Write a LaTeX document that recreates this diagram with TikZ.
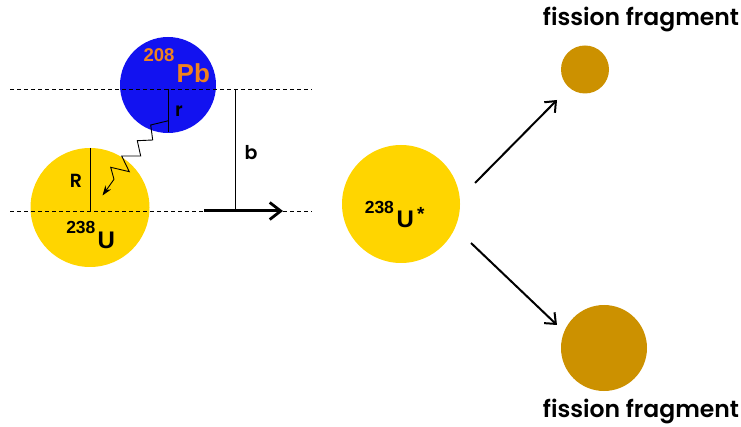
\documentclass[tikz,border=0pt]{standalone}
\usepackage{fontspec}
\setmainfont{Liberation Sans}
\newfontfamily\geosemi{Poppins SemiBold}
\usetikzlibrary{arrows.meta}
\definecolor{pbblue}{RGB}{18,18,240}
\definecolor{pborange}{RGB}{240,130,30}
\definecolor{ugold}{RGB}{255,213,0}
\definecolor{fraggold}{RGB}{204,145,0}
\tikzset{
  nucleus/.style={circle, inner sep=0pt, draw=none},
  guide/.style={dashed, line width=0.8pt, dash pattern=on 4pt off 3pt},
  thin line/.style={line width=0.9pt},
  motion/.style={line width=3pt, -{Straight Barb[length=11pt, width=17pt, line width=2.8pt]}},
  decay/.style={line width=2pt, -{Straight Barb[length=9pt, width=15pt, line width=2pt]}},
  lbl/.style={font=\geosemi\fontsize{19}{19}\selectfont},
  fraglbl/.style={font=\geosemi\fontsize{23.5}{23.5}\selectfont}
}
\begin{document}
\begin{tikzpicture}[x=1pt, y=-1pt]
\useasboundingbox (0,0) rectangle (741,427);

% target and projectile nuclei
\node[nucleus, fill=pbblue, minimum size=96pt] (pb) at (168,85) {};
\node[nucleus, fill=ugold, minimum size=119pt] (u) at (90,207.5) {};

% trajectory guides
\coordinate (tl) at (10,89);
\coordinate (tr) at (312,89);
\coordinate (bl) at (10,211);
\coordinate (br) at (312,211);
\draw[guide] (tl) -- (tr);
\draw[guide] (bl) -- (br);

% radii
\coordinate (rtop) at (168.5,89);
\coordinate (rbot) at (168.5,132.5);
\draw[thin line] (rtop) -- (rbot);
\coordinate (Rtop) at (90,148);
\coordinate (Rbot) at (90,211);
\draw[thin line] (Rtop) -- (Rbot);

% impact parameter
\coordinate (btop) at (235.5,89);
\coordinate (bbot) at (235.5,211);
\draw[thin line] (btop) -- (bbot);
\node[lbl, anchor=center] (blab) at (251,153) {b};

% direction of motion
\coordinate (mstart) at (204,211);
\coordinate (mend) at (283,211);
\draw[motion] (mstart) -- (mend);

% virtual photon exchange
\coordinate (zs) at (168.5,120.7);
\coordinate (ze) at (102.5,195.5);
\draw[thin line, -{Stealth[length=10pt, width=7pt]}] (zs) -- (150.7,125) -- (152.7,140) -- (137.3,140.7) -- (140.7,156)
  -- (121.7,156) -- (129.3,171.7) -- (110.7,167.3) -- (114,179.3) -- (ze);

% labels
\node[lbl] (rlab) at (179,111) {r};
\node[lbl] (Rlab) at (76,181) {R};
\node[font=\bfseries\fontsize{18.5}{18.5}\selectfont, text=pborange, anchor=base east] (pbmass) at (178,62) {208};
\node[font=\bfseries\fontsize{26}{26}\selectfont, text=pborange, anchor=base west, inner xsep=0pt] (pbsym) at (176.5,83) {Pb};
\node[font=\bfseries\fontsize{17.5}{17.5}\selectfont, anchor=base east] (umass) at (99,234) {238};
\node[font=\bfseries\fontsize{24}{24}\selectfont, anchor=base west, inner xsep=0pt] (usym) at (97.5,249) {U};

% compound nucleus
\node[nucleus, fill=ugold, minimum size=118pt] (ustar) at (401,204) {};
\node[font=\bfseries\fontsize{17.5}{17.5}\selectfont, anchor=base east] (usmass) at (397.5,214) {238};
\node[font=\bfseries\fontsize{24}{24}\selectfont, anchor=base west, inner xsep=0pt] (ussym) at (396.5,228) {U};
\node[font=\bfseries\fontsize{19}{19}\selectfont, anchor=base west, inner xsep=0pt] (usx) at (417,221) {*};

% fission fragments
\node[nucleus, fill=fraggold, minimum size=48pt] (f1) at (585,69.5) {};
\node[nucleus, fill=fraggold, minimum size=86pt] (f2) at (604,348) {};
\node[fraglbl] (f1lab) at (641,20) {fission fragment};
\node[fraglbl] (f2lab) at (641,411) {fission fragment};

\coordinate (a1s) at (475,183);
\coordinate (a1e) at (557,100);
\coordinate (a2s) at (471,243);
\coordinate (a2e) at (557,325);
\draw[decay] (a1s) -- (a1e);
\draw[decay] (a2s) -- (a2e);
\end{tikzpicture}
\end{document}
